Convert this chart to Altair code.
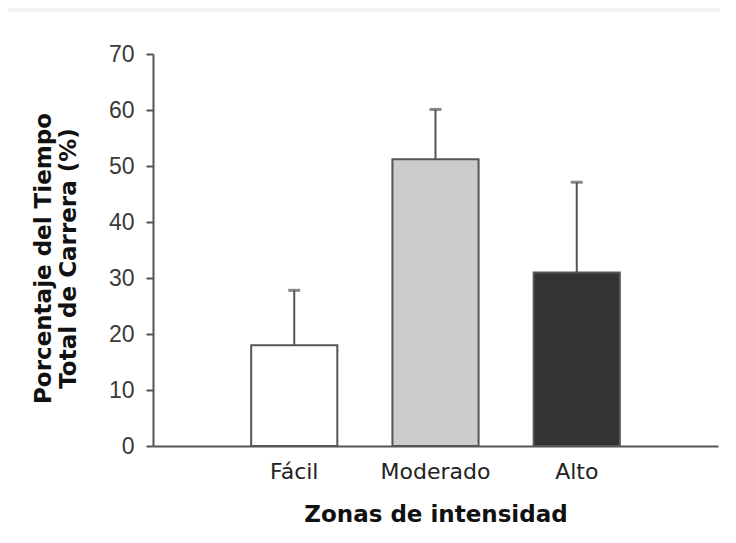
import altair as alt
import pandas as pd

zones = ["Fácil", "Moderado", "Alto"]
means = [18.0, 51.2, 31.0]
errors = [9.8, 8.9, 16.1]
fills = ["#ffffff", "#cccccc", "#333333"]

df = pd.DataFrame({
    "zona": zones,
    "media": means,
    "err": errors,
})
df["top"] = df["media"] + df["err"]

W, H = 565, 392

xscale = alt.Scale(domain=zones, paddingInner=0.39, paddingOuter=0.695)
yscale = alt.Scale(domain=[0, 70])

bg = alt.Chart(pd.DataFrame({"a": [0]})).mark_rect(color="white").encode(
    x=alt.value(-145), x2=alt.value(W + 10), y=alt.value(-42), y2=alt.value(H + 90)
)

x_axis = alt.Axis(
    title="Zonas de intensidad",
    labelAngle=0,
    labelAlign="center",
    ticks=False,
    labelPadding=25,
    labelFont="DejaVu Sans",
    labelFontSize=22,
    labelColor="#222222",
    titleFont="DejaVu Sans",
    titleFontSize=23,
    titleFontWeight="bold",
    titleColor="#111111",
    titleBaseline="alphabetic",
    titleY=75,
    domainColor="#555555",
    domainWidth=2,
    zindex=1,
)
y_axis = alt.Axis(
    title=["Porcentaje del Tiempo", "Total de Carrera (%)"],
    values=[0, 10, 20, 30, 40, 50, 60, 70],
    grid=False,
    tickSize=7,
    tickColor="#555555",
    tickWidth=2,
    domainColor="#555555",
    domainWidth=2,
    labelFont="Liberation Sans",
    labelFontSize=23,
    labelColor="#3a3a3a",
    labelPadding=12,
    titleFont="DejaVu Sans",
    titleFontSize=23,
    titleFontWeight="bold",
    titleColor="#111111",
    titleLineHeight=25,
    titleX=-98,
    titleY=204,
    zindex=1,
)

base = alt.Chart(df)

err_rule = base.mark_rule(color="#555555", strokeWidth=2).encode(
    x=alt.X("zona:N", scale=xscale, sort=zones),
    y=alt.Y("media:Q", scale=yscale),
    y2="top:Q",
)
err_cap = base.mark_tick(color="#555555", thickness=3, size=12).encode(
    x=alt.X("zona:N", scale=xscale, sort=zones),
    y=alt.Y("top:Q", scale=yscale),
)
bars = base.mark_bar(stroke="#555555", strokeWidth=2).encode(
    x=alt.X("zona:N", scale=xscale, sort=zones, axis=x_axis),
    y=alt.Y("media:Q", scale=yscale, axis=y_axis),
    fill=alt.Fill("zona:N", scale=alt.Scale(domain=zones, range=fills), legend=None),
)

chart = alt.layer(bg, err_rule, err_cap, bars).properties(
    width=W,
    height=H,
    autosize=alt.AutoSizeParams(type="none"),
    padding={"left": 145, "top": 46, "right": 2, "bottom": 81},
    background="#f2f2f2",
).configure_view(stroke=None)

chart.save("out.html", embed_options={"renderer": "svg", "actions": False})
